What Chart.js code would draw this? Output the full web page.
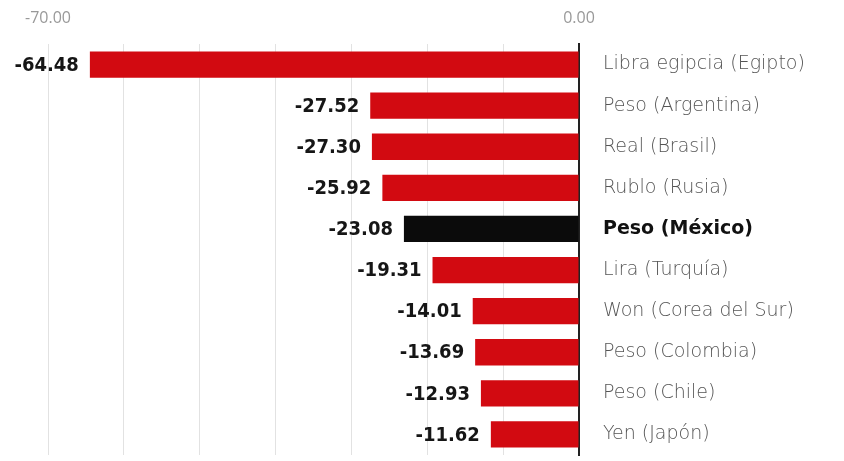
<!DOCTYPE html>
<html>
<head>
<meta charset="utf-8">
<script src="https://cdn.jsdelivr.net/npm/chart.js@4.4.0/dist/chart.umd.min.js"></script>
<style>
    html, body { margin: 0; padding: 0; background: #fff; }
</style>
</head>
<body>
<canvas id="chart" width="844" height="461"></canvas>
<script>
const categories = [
    'Libra egipcia (Egipto)',
    'Peso (Argentina)',
    'Real (Brasil)',
    'Rublo (Rusia)',
    'Peso (México)',
    'Lira (Turquía)',
    'Won (Corea del Sur)',
    'Peso (Colombia)',
    'Peso (Chile)',
    'Yen (Japón)'
];
const values = [-64.48, -27.52, -27.30, -25.92, -23.08, -19.31, -14.01, -13.69, -12.93, -11.62];
const highlight = 'Peso (México)';
const shownTicks = [-70, 0];

const RED = '#d20a11';
const BLACK = '#0b0b0b';

// value labels at the end of each bar
const valueLabels = {
    id: 'valueLabels',
    afterDatasetsDraw(chart) {
        const ctx = chart.ctx;
        const meta = chart.getDatasetMeta(0);
        ctx.save();
        ctx.font = 'bold 20px "DejaVu Sans Condensed", "DejaVu Sans"';
        ctx.fillStyle = '#161616';
        ctx.textAlign = 'right';
        ctx.textBaseline = 'middle';
        meta.data.forEach((bar, i) => {
            ctx.fillText(values[i].toFixed(2), bar.x - 11, bar.y + 1);
        });
        ctx.restore();
    }
};

new Chart(document.getElementById('chart'), {
    type: 'bar',
    data: {
        labels: categories,
        datasets: [{
            data: values,
            backgroundColor: categories.map(c => c === highlight ? BLACK : RED),
            barPercentage: 0.64,
            categoryPercentage: 1
        }]
    },
    plugins: [valueLabels],
    options: {
        indexAxis: 'y',
        responsive: false,
        animation: false,
        layout: { padding: { top: 0, bottom: 6, left: 48, right: 0 } },
        plugins: {
            legend: { display: false },
            tooltip: { enabled: false }
        },
        scales: {
            x: {
                position: 'top',
                min: -70,
                max: 0,
                ticks: {
                    stepSize: 10,
                    padding: 16,
                    color: '#999',
                    font: { family: '"Open Sans"', size: 16 },
                    callback: v => shownTicks.includes(v) ? v.toFixed(2) : ''
                },
                grid: { color: '#e2e2e2', lineWidth: 1, drawTicks: false },
                border: { display: false },
                afterFit: s => { s.height = 44; }
            },
            y: {
                position: 'right',
                ticks: {
                    padding: 24,
                    color: ctx => categories[ctx.index] === highlight ? '#111' : '#555',
                    font: ctx => ({
                        family: '"DejaVu Sans"',
                        size: 19,
                        weight: categories[ctx.index] === highlight ? 'bold' : 300
                    })
                },
                grid: { display: false, drawTicks: false },
                border: { display: true, color: '#222', width: 2 },
                afterFit: s => {
                    s.width = 265;
                    s.paddingTop = 0;
                    s.paddingBottom = 0;
                }
            }
        }
    }
});
</script>
</body>
</html>
